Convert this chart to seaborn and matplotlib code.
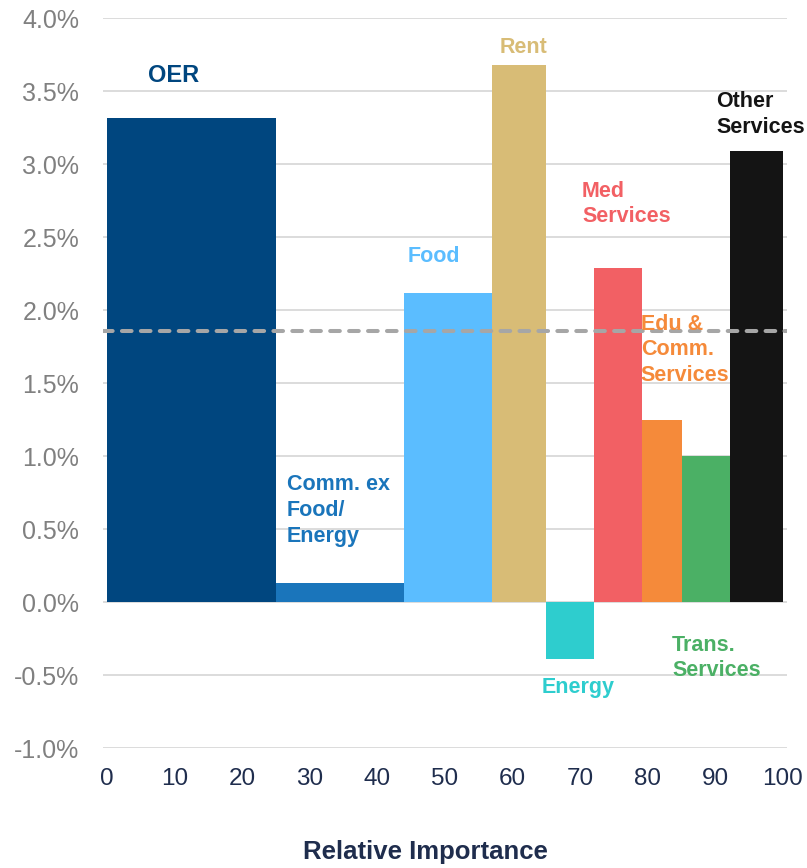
import matplotlib.pyplot as plt
import seaborn as sns
import numpy as np
import pandas as pd

# --- data ---
categories = ["OER", "Comm. ex Food/Energy", "Food", "Rent", "Energy",
              "Med Services", "Edu & Comm. Services", "Trans. Services", "Other Services"]
rel_importance = [25.0, 18.9, 13.1, 8.0, 7.0, 7.1, 6.0, 7.1, 7.8]
inflation = [3.32, 0.13, 2.12, 3.68, -0.39, 2.29, 1.25, 1.00, 3.09]
bar_colors = ["#00467F", "#1A75BB", "#5BBDFF", "#D8BC76", "#2ECDCE",
              "#F26064", "#F58A3A", "#4BB065", "#141414"]
avg_inflation = 1.86

# labels: text, x, y, alignment
labels = [
    ("OER", 9.8, 3.61, "center"),
    ("Comm. ex\nFood/\nEnergy", 26.6, 0.63, "left"),
    ("Food", 48.4, 2.37, "center"),
    ("Rent", 61.7, 3.80, "center"),
    ("Energy", 69.7, -0.58, "center"),
    ("Med\nServices", 70.3, 2.73, "left"),
    ("Edu &\nComm.\nServices", 79.0, 1.73, "left"),
    ("Trans.\nServices", 83.6, -0.38, "left"),
    ("Other\nServices", 90.2, 3.34, "left"),
]

sns.set_theme(style="white")
plt.rcParams["font.family"] = ["Liberation Sans", "DejaVu Sans"]

edges = [0.0] + list(np.cumsum(rel_importance))
mids = np.array(edges[:-1]) + np.array(rel_importance) / 2
df = pd.DataFrame({"category": categories, "mid": mids, "inflation": inflation})

fig = plt.figure(figsize=(8.07, 8.68), dpi=100)
ax = fig.add_axes([0.1276, 0.1377, 0.8474, 0.841])

# variable-width bars: one bin per category, bar height = weight
sns.histplot(data=df, x="mid", weights="inflation", bins=edges, hue="category",
             hue_order=categories, palette=bar_colors, alpha=1, linewidth=0,
             legend=False, ax=ax)

ax.axhline(avg_inflation, color="#A6A6A6", lw=2.9, linestyle=(0, (2.4, 2.3)),
           dash_capstyle="round", zorder=5)

for (txt, x, y, ha), c in zip(labels, bar_colors):
    fs = 15.5 if txt != "OER" else 17
    ax.text(x, y, txt, color=c, fontsize=fs, fontweight="bold", ha=ha,
            va="center", linespacing=1.3, zorder=6)

ax.set_xlim(-0.6, 100.6)
ax.set_ylim(-1.0, 4.0)
ax.set_xticks(np.arange(0, 101, 10))
ax.set_yticks(np.arange(-1.0, 4.01, 0.5))
ax.yaxis.set_major_formatter(plt.FuncFormatter(lambda v, p: f"{v:.1f}%"))
ax.tick_params(axis="y", labelsize=18, labelcolor="#808080", pad=17, length=0)
ax.tick_params(axis="x", labelsize=17.5, labelcolor="#1F2D4D", pad=14, length=0)
ax.yaxis.grid(True, color="#D9D9D9", lw=1.3)
ax.set_axisbelow(True)
sns.despine(ax=ax, left=True, bottom=True)
ax.set_ylabel("")
ax.set_xlabel("Relative Importance", fontsize=18.5, fontweight="bold",
              color="#1F2D4D", va="center")
ax.xaxis.set_label_coords(0.472, -0.142)

fig.savefig("out.png", dpi=100)
